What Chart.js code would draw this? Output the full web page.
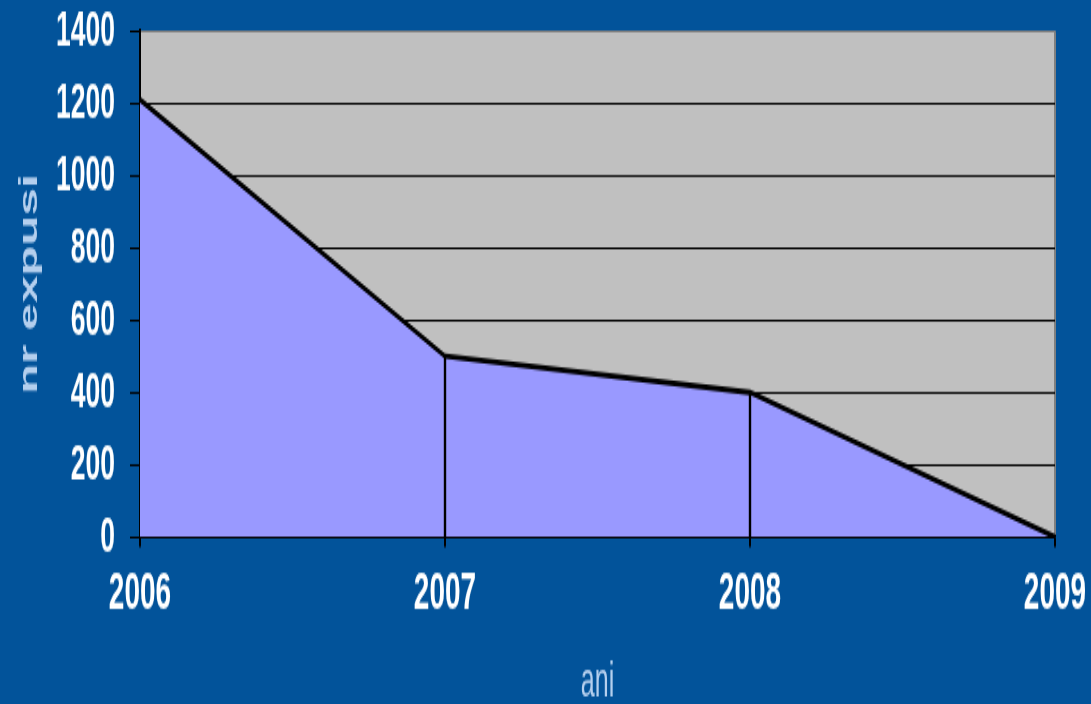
<!DOCTYPE html>
<html>
<head>
<meta charset="utf-8">
<script src="https://cdn.jsdelivr.net/npm/chart.js@4/dist/chart.umd.min.js"></script>
<style>
  html, body { margin: 0; padding: 0; background: #02539a; overflow: hidden; }
  #c { display: block; width: 1091px; height: 704px; }
</style>
</head>
<body>
<canvas id="c" width="1091" height="370" style="width:1091px;height:704px"></canvas>
<script>
const categories = ['2006', '2007', '2008', '2009'];
const expusi = [1210, 500, 400, 0];
const yTicks = [0, 200, 400, 600, 800, 1000, 1200, 1400];
const xTitle = 'ani';
const yTitle = 'nr expusi';

// the reference is vertically stretched; the canvas is drawn 370 high and shown 704 high
const FONT = '"Liberation Sans", Arial, sans-serif';

const bgPlugin = {
  id: 'bg',
  beforeDraw(chart) {
    const ctx = chart.ctx;
    ctx.save();
    ctx.fillStyle = '#02539a';
    ctx.fillRect(0, 0, chart.width, chart.height);
    const a = chart.chartArea;
    ctx.fillStyle = '#c0c0c0';
    ctx.fillRect(a.left, a.top, a.right - a.left, a.bottom - a.top);
    ctx.restore();
  },
  afterDatasetsDraw(chart) {
    const ctx = chart.ctx;
    const x = chart.scales.x, y = chart.scales.y;
    ctx.save();
    ctx.strokeStyle = '#000';
    ctx.lineWidth = 2.4;
    for (let i = 1; i < categories.length - 1; i++) {
      const px = Math.round(x.getPixelForValue(i));
      ctx.beginPath();
      ctx.moveTo(px, y.getPixelForValue(0));
      ctx.lineTo(px, y.getPixelForValue(expusi[i]));
      ctx.stroke();
    }
    ctx.restore();
  }
};

new Chart(document.getElementById('c'), {
  type: 'line',
  data: {
    labels: categories,
    datasets: [{
      data: expusi,
      fill: 'origin',
      backgroundColor: '#9999ff',
      borderColor: '#000000',
      borderWidth: 2.8,
      tension: 0,
      pointRadius: 0
    }]
  },
  options: {
    responsive: false,
    maintainAspectRatio: false,
    animation: false,
    events: [],
    layout: { padding: { left: 0, right: 36, top: 16.3, bottom: 0 } },
    plugins: { legend: { display: false }, tooltip: { enabled: false } },
    scales: {
      x: {
        offset: false,
        afterFit: s => { s.height = 87.8; s.paddingLeft = 0; s.paddingRight = 0; },
        border: { display: true, color: '#000', width: 1.7 },
        grid: {
          drawOnChartArea: true,
          color: ctx => ctx.index === categories.length - 1 ? '#808080' : 'rgba(0,0,0,0)',
          tickColor: '#000',
          tickLength: 5.3,
          lineWidth: 2
        },
        ticks: {
          color: '#ffffff',
          font: { family: FONT, size: 28, weight: 'bold' },
          padding: 8,
          maxRotation: 0,
          autoSkip: false
        },
        title: {
          display: true,
          text: xTitle,
          color: '#b4cfee',
          font: { family: FONT, size: 25, weight: 'normal' },
          padding: { top: 0, bottom: -4 }
        }
      },
      y: {
        min: 0,
        max: 1400,
        afterBuildTicks: scale => { scale.ticks = yTicks.map(v => ({ value: v })); },
        afterFit: s => { s.width = 140; s.paddingTop = 0; s.paddingBottom = 0; },
        border: { display: true, color: '#000', width: 2 },
        grid: {
          color: ctx => (ctx.tick && ctx.tick.value === 1400) ? '#808080' : '#000',
          tickColor: '#000',
          tickLength: 10,
          lineWidth: 1
        },
        ticks: {
          color: '#ffffff',
          font: { family: FONT, size: 26.5, weight: 'bold' },
          padding: 15,
          callback: v => String(v)
        },
        title: {
          display: true,
          text: yTitle,
          color: '#b4cfee',
          font: { family: FONT, size: 26, weight: 'bold' },
          padding: { top: 14, bottom: 0 }
        }
      }
    }
  },
  plugins: [bgPlugin]
});
</script>
</body>
</html>
